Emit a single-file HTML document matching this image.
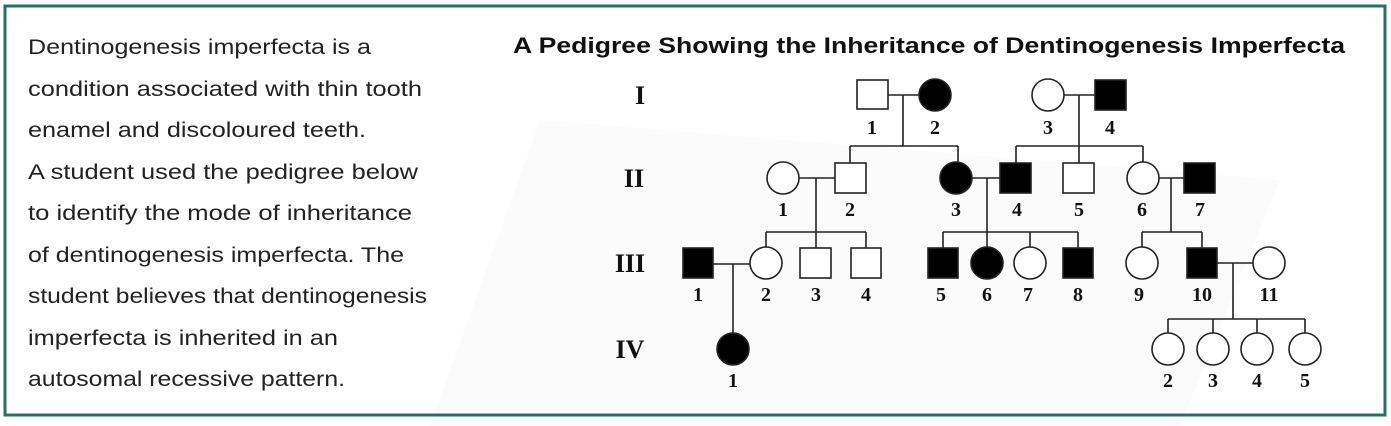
<!DOCTYPE html>
<html><head><meta charset="utf-8"><style>
html,body{margin:0;padding:0;background:#fff;}
svg{display:block;}
</style></head><body>
<svg width="1391" height="426" viewBox="0 0 1391 426" xmlns="http://www.w3.org/2000/svg">
<rect x="0" y="0" width="1391" height="426" fill="#fff"/>
<polygon points="430,426 540,120 1280,180 1180,426" fill="#fbfbfb"/>
<rect x="5" y="6" width="1380" height="409" fill="none" stroke="#2b6f64" stroke-width="3"/>
<g font-family="Liberation Sans, sans-serif" font-size="21" fill="#222">
<text x="28" y="54" textLength="343" lengthAdjust="spacingAndGlyphs">Dentinogenesis imperfecta is a</text>
<text x="28" y="96" textLength="394" lengthAdjust="spacingAndGlyphs">condition associated with thin tooth</text>
<text x="28" y="137" textLength="338" lengthAdjust="spacingAndGlyphs">enamel and discoloured teeth.</text>
<text x="28" y="179" textLength="390" lengthAdjust="spacingAndGlyphs">A student used the pedigree below</text>
<text x="28" y="220" textLength="384" lengthAdjust="spacingAndGlyphs">to identify the mode of inheritance</text>
<text x="28" y="262" textLength="376" lengthAdjust="spacingAndGlyphs">of dentinogenesis imperfecta. The</text>
<text x="28" y="303" textLength="399" lengthAdjust="spacingAndGlyphs">student believes that dentinogenesis</text>
<text x="28" y="345" textLength="310" lengthAdjust="spacingAndGlyphs">imperfecta is inherited in an</text>
<text x="28" y="386" textLength="317" lengthAdjust="spacingAndGlyphs">autosomal recessive pattern.</text>
</g>
<text x="513" y="53" font-family="Liberation Sans, sans-serif" font-size="22" font-weight="bold" fill="#111" textLength="832" lengthAdjust="spacingAndGlyphs">A Pedigree Showing the Inheritance of Dentinogenesis Imperfecta</text>
<g stroke="#222" stroke-width="1.6" fill="none">
<path d="M888,95H919 M903,95V146 M850,146H958 M850,146V163 M958,146V162"/>
<path d="M1064,95H1095 M1079,95V146 M1016,146H1143 M1016,146V163 M1079,146V163 M1143,146V162"/>
<path d="M799,178H835 M816,178V232 M766,232H866 M766,232V247 M816,232V248 M866,232V248"/>
<path d="M972,178H1000 M987,178V232 M943,232H1078 M943,232V248 M987,232V247 M1030,232V247 M1078,232V248"/>
<path d="M1159,178H1184 M1171,178V232 M1142,232H1202 M1142,232V247 M1202,232V248"/>
<path d="M713,264H750 M733,264V333"/>
<path d="M1217,263H1253 M1233,263V319 M1168,319H1305 M1168,319V333 M1213,319V333 M1257,319V333 M1305,319V333"/>
<rect x="857" y="80" width="31" height="29" fill="#fff"/>
<circle cx="935" cy="95" r="16" fill="#000"/>
<circle cx="1048" cy="95" r="16" fill="#fff"/>
<rect x="1095" y="80" width="31" height="30" fill="#000"/>
<circle cx="783" cy="178" r="16" fill="#fff"/>
<rect x="835" y="163" width="31" height="30" fill="#fff"/>
<circle cx="956" cy="178" r="16" fill="#000"/>
<rect x="1000" y="163" width="31" height="30" fill="#000"/>
<rect x="1063" y="163" width="31" height="30" fill="#fff"/>
<circle cx="1143" cy="178" r="16" fill="#fff"/>
<rect x="1184" y="163" width="31" height="30" fill="#000"/>
<rect x="683" y="248" width="30" height="30" fill="#000"/>
<circle cx="766" cy="263" r="16" fill="#fff"/>
<rect x="800" y="248" width="31" height="30" fill="#fff"/>
<rect x="851" y="248" width="30" height="30" fill="#fff"/>
<rect x="928" y="248" width="30" height="30" fill="#000"/>
<circle cx="987" cy="263" r="16" fill="#000"/>
<circle cx="1030" cy="263" r="16" fill="#fff"/>
<rect x="1063" y="248" width="30" height="30" fill="#000"/>
<circle cx="1142" cy="263" r="16" fill="#fff"/>
<rect x="1187" y="248" width="30" height="30" fill="#000"/>
<circle cx="1269" cy="263" r="16" fill="#fff"/>
<circle cx="733" cy="349" r="16" fill="#000"/>
<circle cx="1168" cy="349" r="16" fill="#fff"/>
<circle cx="1213" cy="349" r="16" fill="#fff"/>
<circle cx="1257" cy="349" r="16" fill="#fff"/>
<circle cx="1305" cy="349" r="16" fill="#fff"/>
</g>
<g font-family="Liberation Serif, serif" font-weight="bold" fill="#111" text-anchor="middle">
<g font-size="26">
<text x="640" y="104">I</text>
<text x="634" y="187">II</text>
<text x="630" y="272">III</text>
<text x="630" y="358">IV</text>
</g>
<g font-size="20">
<text x="872" y="134">1</text><text x="935" y="134">2</text><text x="1048" y="134">3</text><text x="1110" y="134">4</text>
<text x="783" y="216">1</text><text x="850" y="216">2</text><text x="956" y="216">3</text><text x="1017" y="216">4</text><text x="1079" y="216">5</text><text x="1142" y="216">6</text><text x="1200" y="216">7</text>
<text x="698" y="301">1</text><text x="766" y="301">2</text><text x="816" y="301">3</text><text x="866" y="301">4</text><text x="941" y="301">5</text><text x="987" y="301">6</text><text x="1028" y="301">7</text><text x="1078" y="301">8</text><text x="1139" y="301">9</text><text x="1202" y="301">10</text><text x="1269" y="301">11</text>
<text x="733" y="387">1</text><text x="1168" y="387">2</text><text x="1213" y="387">3</text><text x="1257" y="387">4</text><text x="1305" y="387">5</text>
</g>
</g>
</svg>
</body></html>
